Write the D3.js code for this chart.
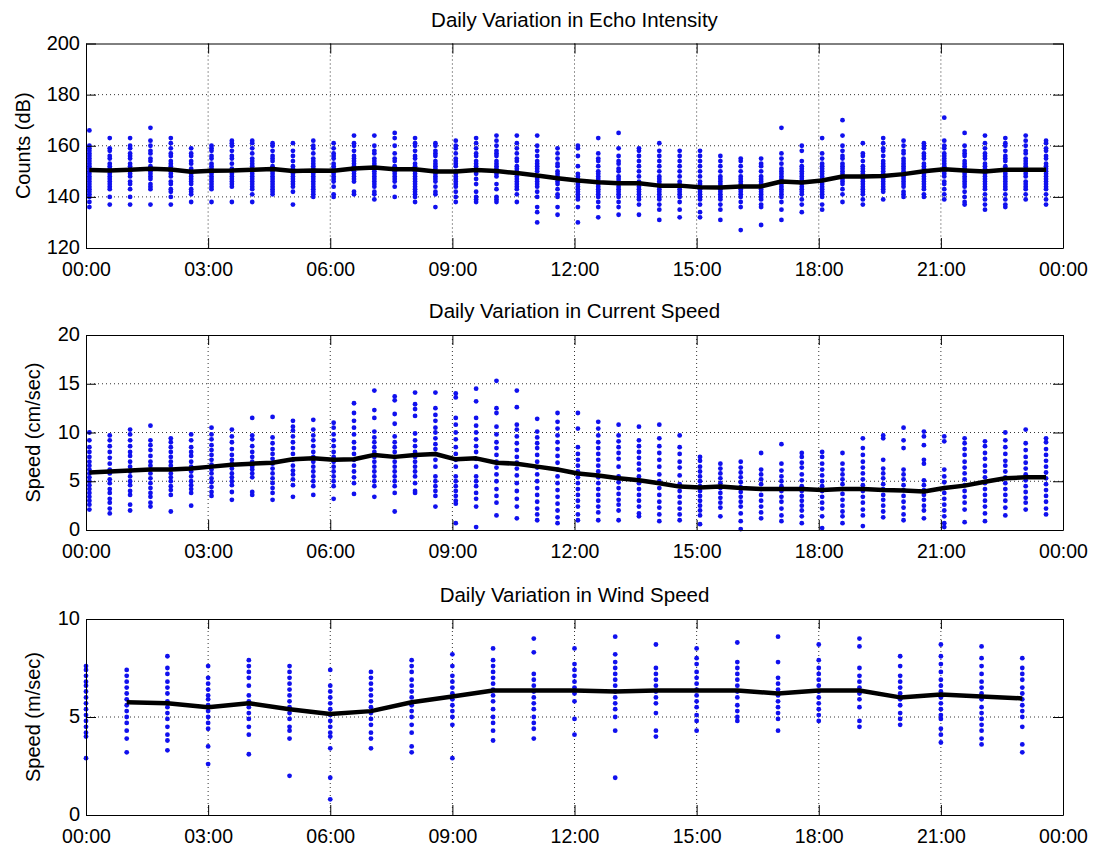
<!DOCTYPE html>
<html><head><meta charset="utf-8">
<script src="https://cdn.jsdelivr.net/npm/d3@7"></script>
<style>body{margin:0;background:#fff}svg{display:block}</style>
</head><body>
<script>
// ---------- DATA ----------
const halfHourBins = ["00:05","00:35","01:05","01:35","02:05","02:35","03:05","03:35","04:05","04:35","05:05","05:35",
"06:05","06:35","07:05","07:35","08:05","08:35","09:05","09:35","10:05","10:35","11:05","11:35",
"12:05","12:35","13:05","13:35","14:05","14:35","15:05","15:35","16:05","16:35","17:05","17:35",
"18:05","18:35","19:05","19:35","20:05","20:35","21:05","21:35","22:05","22:35","23:05","23:35"];
const hourBins = ["00:00","01:00","02:00","03:00","04:00","05:00","06:00","07:00","08:00","09:00","10:00","11:00",
"12:00","13:00","14:00","15:00","16:00","17:00","18:00","19:00","20:00","21:00","22:00","23:00"];
const xTickLabels = ["00:00","03:00","06:00","09:00","12:00","15:00","18:00","21:00","00:00"];
const xTickHours = [0,3,6,9,12,15,18,21,24];

const titles = ["Daily Variation in Echo Intensity","Daily Variation in Current Speed","Daily Variation in Wind Speed"];
const yLabels = ["Counts (dB)","Speed (cm/sec)","Speed (m/sec)"];
const echoTicks = [120,140,160,180,200];
const currentTicks = [0,5,10,15,20];
const windTicks = [0,5,10];

const echoPoints = [
[166,160,159,158,157,156,155,154,153,152,151,150,149,148,147,146,145,144,143,142,141,140,138,136],
[163,159,158,156,155,153,152,151,150,149,148,147,146,145,144,143,140,137],
[163,160,159,157,156,155,153,152,151,150,149,148,146,145,143,140,137],
[167,162,160,158,157,155,154,152,151,150,149,148,147,145,144,143,137],
[163,161,159,157,156,154,153,152,151,150,149,148,146,145,143,142,140,137],
[159,157,156,154,153,151,150,149,148,147,146,145,143,142,141,138],
[160,159,158,156,155,153,152,151,150,149,148,147,146,145,144,143,138],
[162,161,160,158,156,155,153,151,150,149,148,147,146,145,144,138],
[162,161,159,157,155,154,153,152,151,150,149,148,147,146,145,144,143,141,138],
[161,160,158,156,155,154,152,151,150,149,148,147,146,145,144,143,142,141],
[161,158,156,154,152,151,150,149,148,147,146,145,144,142,137],
[162,160,159,157,155,154,153,152,151,150,149,148,147,146,145,144,143,142,141,140],
[161,159,157,156,155,153,152,151,150,149,148,147,146,144,141,140],
[164,161,160,158,156,155,154,153,152,151,150,149,148,147,146,142,141],
[164,160,158,157,155,154,153,152,151,150,149,148,147,146,145,144,142,141,139],
[165,163,160,157,155,154,152,151,150,149,148,147,146,144,140],
[163,161,160,158,156,155,153,152,151,150,149,148,147,146,145,144,143,142,141,140,138],
[161,160,158,157,156,154,153,152,151,150,149,148,147,146,144,142,141,136],
[162,160,159,157,155,154,153,152,150,149,148,147,146,145,144,142,140,138],
[163,161,159,157,156,154,153,152,151,150,149,147,145,142,140,139,138],
[164,162,160,158,157,156,154,153,152,151,150,149,148,145,143,140,139,138],
[164,161,159,157,155,154,152,151,150,149,148,147,146,145,144,143,141,138],
[164,160,158,156,154,153,152,151,150,148,147,146,145,144,142,140,136,134,130],
[159,157,155,153,152,150,149,148,147,146,145,143,141,140,136,133],
[160,159,156,152,149,148,147,146,145,144,143,142,141,140,139,136,130],
[163,157,155,154,152,150,149,148,147,146,145,144,143,142,141,140,138,136,132],
[165,159,156,154,153,151,150,148,147,146,145,144,143,142,141,140,138,136,133],
[159,158,156,154,152,150,148,146,145,144,143,142,141,140,139,137,133],
[161,158,156,154,152,150,148,147,146,145,144,143,142,141,140,139,137,135,131],
[158,156,154,152,150,148,146,145,144,143,142,141,140,138,135,132],
[158,156,154,152,150,148,146,145,144,143,142,141,140,139,137,134,132],
[156,154,152,150,148,147,146,145,144,143,142,141,140,139,137,135,131],
[155,154,152,150,148,147,146,145,144,143,142,141,140,138,136,127],
[155,153,152,150,148,147,146,145,144,143,142,141,140,139,137,136,129],
[167,157,155,153,151,150,149,148,147,146,145,144,143,142,141,140,138,135,131],
[160,158,154,152,151,150,149,148,147,146,145,144,143,142,141,139,137,134],
[163,157,155,153,152,151,150,149,148,147,146,145,144,143,142,141,140,137,135],
[170,164,160,158,156,155,153,152,151,150,149,148,147,146,145,143,141,138],
[161,157,156,154,152,151,150,149,148,147,146,145,144,143,142,141,139,137],
[163,161,159,158,156,154,153,152,151,150,149,148,147,146,145,144,143,142,139],
[162,160,158,157,155,154,153,152,151,150,149,148,147,146,145,144,142,141,140],
[161,160,159,157,156,155,153,152,151,150,149,148,147,146,145,144,143,141,140],
[171,162,160,159,157,156,155,154,153,152,151,150,149,148,146,145,143,141,139],
[165,160,158,157,156,154,153,152,151,150,149,148,147,146,145,144,142,140,138,137],
[164,161,159,157,156,155,153,152,151,150,149,148,147,146,145,144,143,141,139,137,135],
[163,161,160,158,156,155,154,152,151,150,149,148,147,146,145,144,143,141,139,137,136],
[164,162,160,158,157,155,154,153,152,151,150,149,148,146,145,144,143,141,139],
[162,161,159,158,156,155,153,152,151,150,149,148,147,146,145,144,143,141,139,137]
];
const echoMean = [150.5,150.3,150.6,151,150.7,149.8,150.2,150.3,150.6,150.9,150.1,150.3,150.2,151.1,
151.5,150.8,150.8,149.9,149.9,150.5,150.1,149.3,148.4,147.3,146.4,145.7,145.3,145.3,144.4,144.4,143.8,143.7,
144.1,144.1,146,145.6,146.4,148,148,148.2,148.9,150,150.8,150.3,149.9,150.6,150.6,150.6];

const currentPoints = [
[10,9.2,8.5,8,7.5,7,6.6,6.2,5.8,5.4,5,4.6,4.2,3.8,3.4,3,2.6,2.1],
[9.7,9.2,8.6,8,7.4,6.8,6.2,5.8,5.2,4.8,4.2,3.8,3.2,2.8,2.2,1.7],
[10.3,9.8,9.2,8.6,8,7.6,7,6.5,6,5.5,5,4.6,4,3.6,2.6,2],
[10.7,9.2,8.7,8.2,7.6,7,6.6,6.2,5.8,5.3,4.8,4.3,3.8,3.4,2.8,2.4],
[9.4,9,8.5,8,7.5,7,6.6,6.2,5.8,5.4,5,4.5,4.1,3.6,1.9],
[9.8,9.2,8.5,8,7.6,7,6.5,6,5.5,5,4.6,4.2,3.8,2.5],
[10.5,9.8,9.3,8.7,8.2,7.7,7.2,6.7,6.2,5.8,5.3,4.9,4.4,3.9,3.5],
[10.3,9.6,9,8.3,7.7,7.2,6.8,6.3,5.8,5.4,5,4.6,3.9,3.1],
[11.5,9.7,9.3,8.6,8,7.5,7,6.5,6.2,5.8,5.4,3.9,3.6],
[11.6,9.5,8.9,8.3,7.8,7.3,6.8,6.3,5.8,5.3,4.8,4.3,3.8,3.1],
[11.2,10.6,10.2,9.6,9,8.4,7.8,7.2,6.6,6.1,5.7,5.2,4.6,3.4],
[11.3,10.3,9.7,9.2,8.6,8,7.5,7,6.5,6,5.5,5,4.5,3.6],
[11,10.5,9.8,9.2,8.6,8,7.5,7,6.5,6,5.5,5,4.5,3.2],
[13,12,11.2,10.5,9.8,9,8.4,7.8,7.2,6.6,6,5.4,4.8,3.7],
[14.3,12.3,11.5,10.1,9.5,9,8.5,8,7.5,7,6.5,6,5.5,5,4.5,3.4],
[13.7,13.3,11.9,10.9,9.6,9,8.5,8,7.5,7,6.5,6,5.5,5,4.5,3.8,1.9],
[14.1,12.9,12.4,11.7,9.9,9.2,8.6,8,7.5,7,6.5,6,5.5,4.8,4,3.8],
[14.1,12.5,11.8,11.2,10.5,10,9.4,8.8,8.3,7.8,7.2,6.5,5.5,5,4.5,4,3.5,2.4],
[14,13.6,11.5,10.8,10,9.3,8.5,7.8,7.2,6.5,5.5,5,4.5,4,3.5,3,2.7,0.7],
[14.5,13.2,11.5,10.7,10,9.3,8.6,8,7.3,6.5,5.5,5,4.5,3.8,3.2,2.4,0.3],
[15.3,12.5,12,10.6,9.8,9,8.4,7.7,7,6.4,5.7,5,4.2,3.5,2.8,1.5],
[14.3,12.6,10.8,10.3,9.6,8.9,8.2,7.5,6.9,6.3,5.6,4.8,4,3.2,2.4,1.2],
[11.4,10.1,9.5,8.9,8.4,7.7,7,6.4,5.7,5,4.3,3.6,2.9,2.2,1.6,1],
[12,11.1,10.4,9.7,9,8.3,7.6,6.9,6.2,5.5,4.8,4.1,3.4,2.7,2,1.3,0.7],
[12,10.4,8.5,7.8,7.2,6.6,6,5.4,4.8,4.2,3.6,3,2.4,1.6,1],
[11.1,10.4,9.7,9,8.4,7.8,7.2,6.6,6,5.4,4.8,4.2,3.6,3,2.4,1.8,1],
[10.8,9.7,9.1,8.5,7.9,7.3,6.5,5.5,4.9,4.3,3.7,3.1,2.6,2,1],
[10.6,9.2,8.6,8,7.4,6.8,6.2,5.5,4.8,4.2,3.6,3,2.4,1.7,1.4],
[10.8,9.4,8.6,7.9,7.2,6.5,5.7,5,4.3,3.6,2.9,2.3,1.6,0.9],
[9.7,8.5,7.8,7,6.4,5.6,4.7,4,3.4,2.8,2.2,1.6,1],
[7.5,7.1,6.5,6,5.5,5,4.5,4,3.5,3,2.5,2,1.5,0.6],
[6.8,6.3,5.8,5.3,4.8,4.3,3.8,3.3,2.8,2.3,1.4],
[7,6.4,5.9,5.4,4.9,4.4,3.9,3.4,2.9,2.4,1.7,0.9,0.1],
[7.9,6.2,5.7,5.2,4.7,4.2,3.6,3,2.4,1.8,1.2],
[8.8,6.8,6.1,5.5,5,4.5,4,3.4,2.9,2.2,1.5,0.9],
[7.9,7.5,6.9,6.4,5.7,5.1,4.5,4,3.5,3,2.5,2,1.4,0.7],
[8,7.5,6.8,6.2,5.6,5,4.5,4,3.4,2.8,2.2,1.4,0.2],
[7.9,6.8,6.2,5.7,5.2,4.7,4.2,3.7,3.1,2.5,1.9,1.4,0.7],
[9.4,8.4,7.7,7,6.4,5.8,5.2,4.6,4,3.4,2.8,2.1,1.5,0.4],
[9.7,9.4,7.2,6.3,5.8,5.3,4.7,4.2,3.6,3.1,2.5,1.9,1.3],
[10.5,9.2,8.4,6.2,5.7,5.2,4.6,4.1,3.5,2.9,2.3,1.6,1],
[10.1,9.6,8.7,7.2,6.8,5.1,4.6,4.1,3.6,3.1,2.5,2,1.2],
[9.6,9.1,6.2,5.5,4.9,4.3,3.8,3.2,2.6,2,1.4,0.7,0.3],
[9.4,8.9,8.3,7.7,7,6.4,5.8,5.2,4.6,4,3.4,2.8,2.1,0.8],
[9.1,8.6,7.9,7.3,6.6,6,5.4,4.8,4.2,3.6,3,2.4,1.7,0.9],
[10,9.2,8.5,7.8,7.1,6.6,6,5.4,4.8,4.2,3.6,3,2.3,1.5],
[10.3,8.9,8.2,7.5,6.9,6.3,5.7,5.1,4.5,3.9,3.3,2.8,2.1],
[9.4,9,8.3,7.7,7.1,6.5,5.9,5.3,4.7,4.1,3.5,2.9,2.2,1.6]
];
const currentMean = [5.9,6.0,6.1,6.2,6.2,6.3,6.5,6.7,6.8,6.9,7.25,7.35,7.2,7.25,
7.7,7.5,7.7,7.8,7.25,7.35,6.9,6.8,6.5,6.2,5.8,5.6,5.3,5.1,4.8,4.45,4.35,4.45,
4.3,4.2,4.2,4.2,4.1,4.2,4.2,4.1,4.05,3.95,4.3,4.55,4.95,5.3,5.4,5.4];

const windPoints = [
[7.6,7.4,7.1,6.8,6.6,6.3,6,5.7,5.4,5.1,4.8,4.5,4.2,4,2.9],
[7.4,7.1,6.8,6.5,6.2,5.9,5.6,5.3,5,4.7,4.3,3.9,3.2],
[8.1,7.5,7.2,6.8,6.5,6.2,5.8,5.5,5.2,4.9,4.5,4.1,3.8,3.3],
[7.6,7,6.7,6.4,6.1,5.9,5.6,5.3,5,4.7,4.4,3.5,2.6],
[7.9,7.6,7.3,7,6.6,6.1,5.8,5.5,5.2,4.9,4.5,4.1,3.1],
[7.6,7.3,7,6.7,6.4,6.1,5.8,5.5,5.2,4.9,4.5,4.3,3.9,2],
[7.4,6.6,6.3,6,5.7,5.4,5.1,4.8,4.5,4.2,4,3.4,1.9,0.8],
[7.3,7,6.7,6.4,6.1,5.8,5.5,5.2,4.9,4.6,4.2,3.9,3.4],
[7.9,7.6,7.3,6.9,6.6,6.3,6,5.6,5.3,5,4.6,4.2,3.5,3.2],
[8.2,7.6,7.1,6.8,6.5,6.2,5.9,5.6,5.3,5,4.6,2.9],
[8.5,7.9,7.6,7.3,7,6.7,6.4,6.1,5.8,5.4,5,4.7,4.3,3.8],
[9,8.3,7.2,6.9,6.6,6.3,6,5.7,5.4,5,4.7,4.4,3.9],
[8.5,7.7,7.4,7.1,6.8,6.5,6.2,5.8,4.9,4.1],
[9.1,8.2,7.8,7.5,7.2,6.9,6.6,6.3,6,5.7,5.4,5,4.3,1.9],
[8.7,7.5,7.2,6.9,6.6,6.3,6,5.7,5.2,4.3,4],
[8.5,8,7.7,7.3,7,6.7,6.4,6.1,5.8,5.5,5.1,4.8,4.3],
[8.8,7.8,7.5,7.2,6.9,6.6,6.3,6,5.6,5.3,5,4.8],
[9.1,7.8,7,6.7,6.4,6.1,5.8,5.5,5.2,4.9,4.3],
[8.7,7.9,7.5,7.2,6.9,6.6,6.3,6,5.7,5.4,5.1,4.8],
[9,8.6,7.5,7.1,6.8,6.5,6.2,5.9,5.5,4.8,4.5],
[8.1,7.6,7.1,6.8,6.5,6.2,5.9,5.6,5.2,4.9,4.6],
[8.7,8.1,7.7,7.3,6.9,6.6,6.3,6,5.7,5.4,5.1,4.9,4.4,4.1,3.7],
[8.6,8,7.6,7.2,6.8,6.5,6.2,5.9,5.5,5.2,4.9,4.6,4.3,3.9,3.6],
[8,7.5,7.2,6.9,6.5,6.2,5.9,5.6,5.3,5,4.5,3.6,3.2]
];
const windMean = [null,5.75,5.7,5.5,5.7,5.4,5.15,5.3,5.75,6.05,6.35,6.35,6.35,6.3,6.35,6.35,6.35,6.2,6.35,6.35,6.0,6.15,6.05,5.95];

// ---------- DRAWING ----------
const W = 1103, H = 848;
const FONT = "'Liberation Sans', Arial, Helvetica, sans-serif";
const svg = d3.select("body").append("svg").attr("width", W).attr("height", H)
  .style("font-family", FONT);

const toHours = s => { const [h, m] = s.split(":").map(Number); return h + m / 60; };
const x = d3.scaleLinear().domain([0, 24]).range([86, 1063]);

const panels = [
  {title: titles[0], ylab: yLabels[0], ticks: echoTicks, top: 43.5, bottom: 248, times: halfHourBins, pts: echoPoints, mean: echoMean, labX: 30, titleY: 27},
  {title: titles[1], ylab: yLabels[1], ticks: currentTicks, top: 335, bottom: 530, times: halfHourBins, pts: currentPoints, mean: currentMean, labX: 40, titleY: 318},
  {title: titles[2], ylab: yLabels[2], ticks: windTicks, top: 619, bottom: 815, times: hourBins, pts: windPoints, mean: windMean, labX: 40, titleY: 602}
];

panels.forEach(p => {
  const y = d3.scaleLinear().domain(d3.extent(p.ticks)).range([p.bottom, p.top]);
  const g = svg.append("g");
  const x0 = x.range()[0], x1 = x.range()[1];

  // grid
  g.append("g").selectAll("line").data(xTickHours.slice(1, -1)).join("line")
    .attr("x1", d => x(d)).attr("x2", d => x(d)).attr("y1", p.top).attr("y2", p.bottom)
    .attr("stroke", "#000").attr("stroke-width", 0.8).attr("stroke-dasharray", "1,3");
  g.append("g").selectAll("line").data(p.ticks.slice(1, -1)).join("line")
    .attr("y1", d => y(d)).attr("y2", d => y(d)).attr("x1", x0).attr("x2", x1)
    .attr("stroke", "#000").attr("stroke-width", 0.8).attr("stroke-dasharray", "1,3");

  // points
  const flat = [];
  p.pts.forEach((col, i) => col.forEach(v => flat.push({t: toHours(p.times[i]), v})));
  g.append("g").selectAll("circle").data(flat).join("circle")
    .attr("cx", d => x(d.t)).attr("cy", d => y(d.v)).attr("r", 2.4)
    .attr("fill", "#1010ee");

  // mean line
  const meanData = p.mean.map((v, i) => ({t: toHours(p.times[i]), v}));
  g.append("path").datum(meanData)
    .attr("d", d3.line().defined(d => d.v !== null).x(d => x(d.t)).y(d => y(d.v)))
    .attr("fill", "none").attr("stroke", "#000").attr("stroke-width", 4.5).attr("stroke-linejoin", "round");

  // axes (inward ticks on all sides)
  const tl = 10;
  const axB = d3.axisBottom(x).tickValues(xTickHours).tickFormat((d, i) => xTickLabels[i]).tickSizeInner(-tl).tickSizeOuter(0);
  const axT = d3.axisTop(x).tickValues(xTickHours).tickFormat("").tickSizeInner(-tl).tickSizeOuter(0);
  const axL = d3.axisLeft(y).tickValues(p.ticks).tickSizeInner(-tl).tickSizeOuter(0);
  const axR = d3.axisRight(y).tickValues(p.ticks).tickFormat("").tickSizeInner(-tl).tickSizeOuter(0);
  const style = (sel, fs) => { sel.selectAll("path").attr("stroke", "#000").attr("stroke-width", 1);
    sel.selectAll("line").attr("stroke", "#000").attr("stroke-width", 1);
    sel.selectAll("text").attr("fill", "#000").style("font-size", fs + "px").style("font-family", FONT); };
  g.append("g").attr("transform", `translate(0,${p.bottom})`).call(axB).call(style, 19.5)
    .selectAll("text").attr("dy", null).attr("y", 27.5);
  g.append("g").attr("transform", `translate(0,${p.top})`).call(axT).call(style, 20);
  g.append("g").attr("transform", `translate(${x0},0)`).call(axL).call(style, 20)
    .selectAll("text").attr("x", -6).attr("dy", "0.28em");
  g.append("g").attr("transform", `translate(${x1},0)`).call(axR).call(style, 20);

  // title
  svg.append("text").attr("x", (x0 + x1) / 2).attr("y", p.titleY).attr("text-anchor", "middle")
    .style("font-size", "20.5px").attr("fill", "#000").text(p.title);
  // y label
  svg.append("text").attr("transform", `translate(${p.labX},${(p.top + p.bottom) / 2}) rotate(-90)`)
    .attr("text-anchor", "middle").style("font-size", "20px").attr("fill", "#000").text(p.ylab);
});
</script>
</body></html>
